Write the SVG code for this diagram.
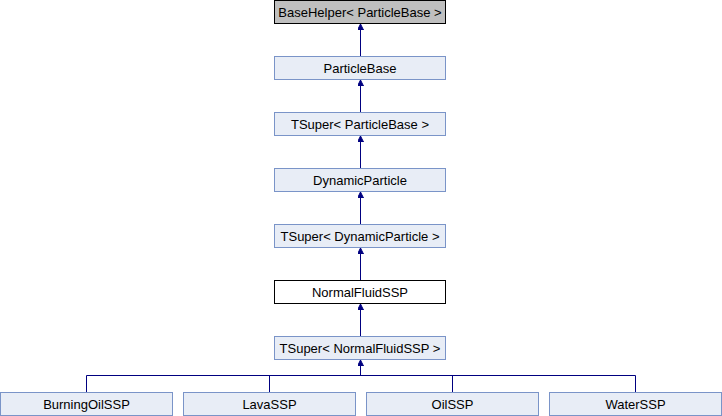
<svg xmlns="http://www.w3.org/2000/svg" width="722" height="416" viewBox="0 0 722 416">
<defs>
<style>
.n rect{fill:#e8edf6;stroke:#7a94c8;stroke-width:1}
.n text{font-family:"Liberation Sans",Arial,sans-serif;font-size:13px;text-anchor:middle;fill:#000}
#n0 rect{fill:#bfbfbf;stroke:#000}
#n5 rect{fill:#fff;stroke:#000}
.e{stroke:#000080;stroke-width:1;fill:none}
.h{fill:#000080;stroke:#000080}
</style>
<marker id="a" markerWidth="8" markerHeight="8" refX="6" refY="3" orient="auto" markerUnits="userSpaceOnUse">
<path d="M0,0 L6,3 L0,6 Z" class="h"/>
</marker>
</defs>
<rect width="722" height="416" fill="#fff"/>
<g id="edges">
<line class="e" x1="360.5" y1="56" x2="360.5" y2="24" marker-end="url(#a)"/>
<line class="e" x1="360.5" y1="112" x2="360.5" y2="80" marker-end="url(#a)"/>
<line class="e" x1="360.5" y1="168" x2="360.5" y2="136" marker-end="url(#a)"/>
<line class="e" x1="360.5" y1="224" x2="360.5" y2="192" marker-end="url(#a)"/>
<line class="e" x1="360.5" y1="280" x2="360.5" y2="248" marker-end="url(#a)"/>
<line class="e" x1="360.5" y1="336" x2="360.5" y2="304" marker-end="url(#a)"/>
<line class="e" x1="360.5" y1="376" x2="360.5" y2="360" marker-end="url(#a)"/>
<path class="e" d="M86.5,392 V375.5 H635.5 V392 M269.5,392 V375.5 M452.5,392 V375.5"/>
</g>
<g id="n0" class="n"><rect x="274.5" y="0.5" width="171" height="23"/><text x="360" y="16.5">BaseHelper&lt; ParticleBase &gt;</text></g>
<g id="n1" class="n"><rect x="274.5" y="56.5" width="171" height="23"/><text x="360" y="72.5">ParticleBase</text></g>
<g id="n2" class="n"><rect x="274.5" y="112.5" width="171" height="23"/><text x="360" y="128.5">TSuper&lt; ParticleBase &gt;</text></g>
<g id="n3" class="n"><rect x="274.5" y="168.5" width="171" height="23"/><text x="360" y="184.5">DynamicParticle</text></g>
<g id="n4" class="n"><rect x="274.5" y="224.5" width="171" height="23"/><text x="360" y="240.5">TSuper&lt; DynamicParticle &gt;</text></g>
<g id="n5" class="n"><rect x="274.5" y="280.5" width="171" height="23"/><text x="360" y="296.5">NormalFluidSSP</text></g>
<g id="n6" class="n"><rect x="274.5" y="336.5" width="171" height="23"/><text x="360" y="352.5">TSuper&lt; NormalFluidSSP &gt;</text></g>
<g id="n7" class="n"><rect x="0.5" y="392.5" width="172" height="23"/><text x="86.5" y="408.5">BurningOilSSP</text></g>
<g id="n8" class="n"><rect x="183.5" y="392.5" width="172" height="23"/><text x="269.5" y="408.5">LavaSSP</text></g>
<g id="n9" class="n"><rect x="366.5" y="392.5" width="172" height="23"/><text x="452.5" y="408.5">OilSSP</text></g>
<g id="n10" class="n"><rect x="549.5" y="392.5" width="172" height="23"/><text x="635.5" y="408.5">WaterSSP</text></g>
</svg>
